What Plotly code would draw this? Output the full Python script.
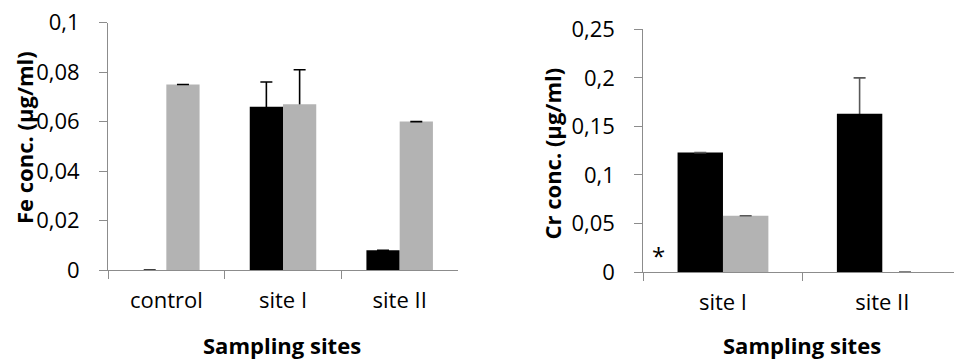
import plotly.graph_objects as go

# Fe panel (left)
fe_sites = ["control", "site I", "site II"]
fe_black = [0.0, 0.066, 0.008]
fe_black_err = [0.0, 0.010, 0.0]
fe_grey = [0.075, 0.067, 0.060]
fe_grey_err = [0.0, 0.014, 0.0]
fe_ticks = [0, 0.02, 0.04, 0.06, 0.08, 0.1]
fe_ticklabels = ["0", "0,02", "0,04", "0,06", "0,08", "0,1"]

# Cr panel (right)
cr_sites = ["site I", "site II"]
cr_black = [0.123, 0.163]
cr_black_err = [0.0, 0.037]
cr_grey = [0.058, 0.0]
cr_grey_err = [0.0, 0.0]
cr_ticks = [0, 0.05, 0.1, 0.15, 0.2, 0.25]
cr_ticklabels = ["0", "0,05", "0,1", "0,15", "0,2", "0,25"]

W, H = 954, 359
FONT = "Open Sans"
BLACK = "#000000"
GREY = "#b3b3b3"
AXIS = "#8c8c8c"
CLEAR = "rgba(0,0,0,0)"


def px_x(v):
    return v / W


def px_y(v):
    return 1 - v / H


def add_series(sites, values, errors, color, err_color, group, xa, ya):
    """Bars with upper-only error bars: whiskers are drawn under the bar so
    only the part above its top shows; zero errors get a flat cap on top."""
    common = dict(x=sites, offsetgroup=group, xaxis=xa, yaxis=ya, showlegend=False,
                  hoverinfo="skip", marker_line_width=0)
    # whiskers (hidden below the bar top by the bar drawn next)
    fig.add_trace(go.Bar(y=[v if e > 0 else None for v, e in zip(values, errors)],
                         marker_color=CLEAR,
                         error_y=dict(type="data", array=[e if e > 0 else 0 for e in errors],
                                      color=err_color, thickness=1.6, width=6), **common))
    # the visible bars
    fig.add_trace(go.Bar(y=values, marker_color=color, **common))
    # flat caps for zero-error values
    fig.add_trace(go.Bar(y=[v if e == 0 else None for v, e in zip(values, errors)],
                         marker_color=CLEAR,
                         error_y=dict(type="data", array=[0] * len(values),
                                      color=err_color, thickness=1.6, width=6), **common))


fig = go.Figure()
add_series(fe_sites, fe_black, fe_black_err, BLACK, BLACK, "black", "x", "y")
add_series(fe_sites, fe_grey, fe_grey_err, GREY, BLACK, "grey", "x", "y")
add_series(cr_sites, cr_black, cr_black_err, BLACK, "#595959", "black", "x2", "y2")
add_series(cr_sites, cr_grey, cr_grey_err, GREY, "#595959", "grey", "x2", "y2")

xcommon = dict(showline=True, linecolor=AXIS, linewidth=1, ticks="outside", tickson="boundaries",
               ticklen=8, tickcolor=AXIS, showgrid=False, zeroline=False, automargin=False,
               tickfont=dict(family=FONT, size=22, color="#000"), ticklabelstandoff=11)
ycommon = dict(showline=True, linecolor=AXIS, linewidth=1, ticks="outside", ticklen=8,
               tickcolor=AXIS, showgrid=False, zeroline=False, automargin=False,
               tickfont=dict(family=FONT, size=22, color="#000"), ticklabelstandoff=15)

fig.update_layout(
    width=W, height=H, margin=dict(l=0, r=0, t=0, b=0, autoexpand=False),
    paper_bgcolor="white", plot_bgcolor="white",
    barmode="group", bargap=0.43, bargroupgap=0,
    xaxis=dict(domain=[px_x(108), px_x(458)], range=[-0.5, 2.5], anchor="y", **xcommon),
    yaxis=dict(domain=[px_y(270), px_y(22.7)], range=[0, 0.1], anchor="x",
               tickvals=fe_ticks, ticktext=fe_ticklabels, **ycommon),
    xaxis2=dict(domain=[px_x(643.3), 1.0], range=[-0.5, 1.45], anchor="y2", **xcommon),
    yaxis2=dict(domain=[px_y(272), px_y(29.3)], range=[0, 0.25], anchor="x2",
                tickvals=cr_ticks, ticktext=cr_ticklabels, **ycommon),
)

title_font = dict(family=FONT, size=22, color="#000", weight="bold")
fig.add_annotation(text="Sampling sites", x=px_x(282), y=px_y(345), xref="paper", yref="paper",
                   showarrow=False, font=title_font, xanchor="center", yanchor="middle")
fig.add_annotation(text="Sampling sites", x=px_x(802), y=px_y(345), xref="paper", yref="paper",
                   showarrow=False, font=title_font, xanchor="center", yanchor="middle")
fig.add_annotation(text="Fe conc. (μg/ml)", x=px_x(24), y=px_y(138), xref="paper", yref="paper",
                   showarrow=False, font=title_font, textangle=-90, xanchor="center", yanchor="middle")
fig.add_annotation(text="Cr conc. (μg/ml)", x=px_x(551), y=px_y(153.5), xref="paper", yref="paper",
                   showarrow=False, font=title_font, textangle=-90, xanchor="center", yanchor="middle")
fig.add_annotation(text="*", x=px_x(658), y=px_y(255), xref="paper", yref="paper",
                   showarrow=False, font=dict(family=FONT, size=24, color="#000"),
                   xanchor="center", yanchor="middle")

fig.write_html("out.html")
